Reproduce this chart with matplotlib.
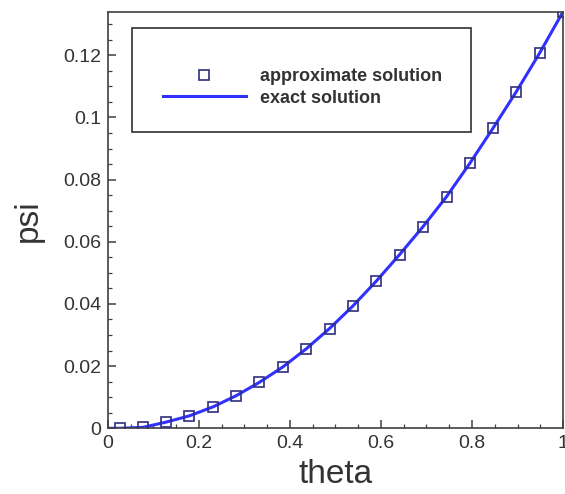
"""Approximate vs exact solution, psi over theta."""

import matplotlib
matplotlib.use("Agg")
import matplotlib.pyplot as plt
from matplotlib.patches import Rectangle
from matplotlib.ticker import FuncFormatter, MultipleLocator

plt.rcParams["font.family"] = ["Liberation Sans", "DejaVu Sans"]

# values
theta = [0.026, 0.077, 0.128, 0.179, 0.231, 0.282, 0.333, 0.385, 0.436, 0.487,
         0.538, 0.590, 0.641, 0.692, 0.744, 0.795, 0.846, 0.897, 0.949, 1.000]
psi_approx = [0.0000, 0.0003, 0.0020, 0.0040, 0.0069, 0.0105, 0.0148, 0.0198,
              0.0256, 0.0321, 0.0393, 0.0474, 0.0559, 0.0648, 0.0745, 0.0852,
              0.0965, 0.1082, 0.1208, 0.1340]
theta_exact = [0.0] + theta
psi_exact = [0.0] + psi_approx

TEXT = "#333333"
SPINE = "#404040"

fig = plt.figure(figsize=(5.65, 4.94), dpi=100)
ax = fig.add_axes([0.191, 0.133, 0.8055, 0.842])

ax.plot(theta_exact, psi_exact, color="#3030ff", lw=2.2, label="exact solution",
        zorder=2)
ax.plot(theta, psi_approx, ls="none", marker="s", ms=7.5, mfc="none",
        mec="#2e2e7e", mew=1.2, label="approximate solution", zorder=3)

ax.set_xlim(0, 1)
ax.set_ylim(0, 0.1338)
ax.xaxis.set_major_locator(MultipleLocator(0.2))
ax.xaxis.set_minor_locator(MultipleLocator(0.05))
ax.yaxis.set_major_locator(MultipleLocator(0.02))
ax.yaxis.set_minor_locator(MultipleLocator(0.005))
fmt = FuncFormatter(lambda v, _: f"{v:g}")
ax.xaxis.set_major_formatter(fmt)
ax.yaxis.set_major_formatter(fmt)

ax.tick_params(which="both", direction="in", top=False, right=False,
               color=SPINE, labelcolor=TEXT, labelsize=14)
ax.tick_params(which="major", length=6, width=1.1)
ax.tick_params(which="minor", length=3, width=0.9)
ax.tick_params(axis="x", pad=5)
ax.tick_params(axis="y", pad=5)
for sp in ax.spines.values():
    sp.set_color(SPINE)
    sp.set_linewidth(1.2)

ax.set_xlabel("theta", fontsize=24, color=TEXT, labelpad=5)
ax.set_ylabel("psi", fontsize=24, color=TEXT, labelpad=14)

# legend frame drawn separately, entries placed inside without frame
ax.add_patch(Rectangle((0.052, 0.712), 0.745, 0.25, transform=ax.transAxes,
                       fill=False, ec=SPINE, lw=1.3, zorder=4))
handles, labels = ax.get_legend_handles_labels()
ax.legend(handles[::-1], labels[::-1], loc="upper left",
          bbox_to_anchor=(0.085, 0.905), frameon=False, handlelength=4.6,
          handletextpad=0.8, labelspacing=0.25,
          prop={"weight": "bold", "size": 13}, labelcolor=TEXT)

fig.savefig("out.png", dpi=100, facecolor="white")
